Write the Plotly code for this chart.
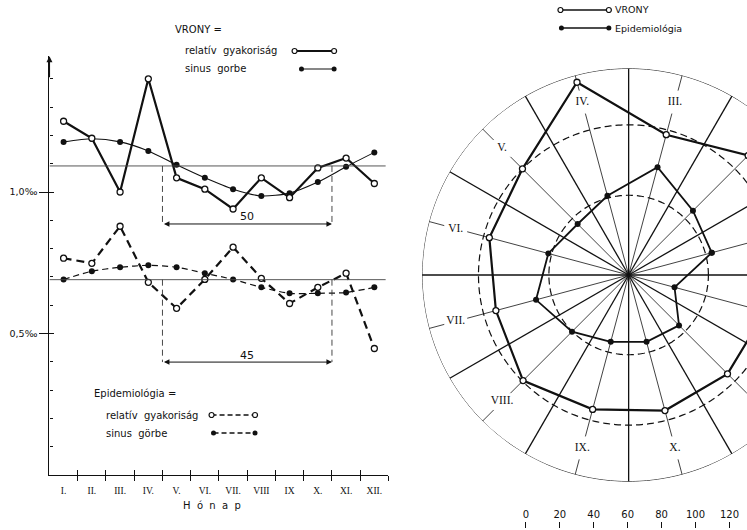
import numpy as np
import plotly.graph_objects as go

# ---------------------------------------------------------------- data
MONTH_LABELS = ["I.", "II.", "III.", "IV.", "V.", "VI.", "VII.", "VIII", "IX", "X.", "XI.", "XII."]
ROSE_LABELS = ["I.", "II.", "III.", "IV.", "V.", "VI.", "VII.", "VIII.", "IX.", "X.", "XI.", "XII."]

# monthly relative frequency (per mille) and fitted sine curve
VRONY_REL = [1.25, 1.19, 1.00, 1.40, 1.05, 1.01, 0.94, 1.05, 0.98, 1.085, 1.12, 1.03]
VRONY_SIN = [1.177, 1.188, 1.177, 1.145, 1.096, 1.05, 1.01, 0.986, 0.996, 1.035, 1.089, 1.14]
EPI_REL = [0.766, 0.748, 0.879, 0.681, 0.589, 0.691, 0.805, 0.695, 0.606, 0.663, 0.713, 0.447]
EPI_SIN = [0.691, 0.72, 0.734, 0.741, 0.734, 0.713, 0.691, 0.663, 0.642, 0.642, 0.645, 0.663]

# seasonal rose (scale 0-120)
VRONY_ROSE = [104.0, 99.6, 85.6, 117.6, 88.5, 85.0, 81.0, 88.0, 82.0, 82.7, 82.4, 83.3]
EPI_ROSE = [50.7, 53.6, 65.8, 48.3, 42.5, 49.0, 56.5, 47.2, 40.8, 40.8, 42.0, 28.0]
ROSE_MEANS = [88.5, 47.0]
SCALE_TICKS = [0, 20, 40, 60, 80, 100, 120]

# bracket annotations of the line chart: (label, level of arrow, label level)
BRACKETS = [("50", 0.887, 0.915), ("45", 0.399, 0.424)]
BRACKET_X = [4.5, 10.5]

# ---------------------------------------------------------------- layout helpers
W, H = 860, 530          # the rose runs off the right edge of the page
VIEW_W = 747             # visible part of the page
INK = "#111111"
SANS = "DejaVu Sans"
SERIF = "Liberation Serif"


def px(x):
    return x / W


def py(y):
    return 1 - y / H


months = np.arange(1, 13)
fig = go.Figure()

# ---------------------------------------------------------------- line chart
open_marker = dict(symbol="circle", size=6, color="white", line=dict(color=INK, width=1.3))
dot_marker = dict(symbol="circle", size=6, color=INK)

fig.add_trace(go.Scatter(x=months, y=VRONY_SIN, mode="lines+markers",
                         line=dict(color=INK, width=1.1, shape="spline", smoothing=0.7),
                         marker=dot_marker, xaxis="x", yaxis="y"))
fig.add_trace(go.Scatter(x=months, y=VRONY_REL, mode="lines+markers",
                         line=dict(color=INK, width=2.2), marker=open_marker,
                         xaxis="x", yaxis="y"))
fig.add_trace(go.Scatter(x=months, y=EPI_SIN, mode="lines+markers",
                         line=dict(color=INK, width=1.2, dash="6px,4px", shape="spline", smoothing=0.7),
                         marker=dot_marker, xaxis="x", yaxis="y"))
fig.add_trace(go.Scatter(x=months, y=EPI_REL, mode="lines+markers",
                         line=dict(color=INK, width=2.2, dash="8px,5px"), marker=open_marker,
                         xaxis="x", yaxis="y"))

# mean levels and the half-year brackets
means = [float(np.mean(VRONY_REL)), float(np.mean(EPI_REL))]
for mean, (label, arrow_y, label_y) in zip(means, BRACKETS):
    fig.add_shape(type="line", xref="x", yref="y", x0=0.5, x1=12.4, y0=mean, y1=mean,
                  line=dict(color="#444444", width=0.9))
    for bx in BRACKET_X:
        fig.add_shape(type="line", xref="x", yref="y", x0=bx, x1=bx, y0=mean, y1=arrow_y,
                      line=dict(color="#333333", width=0.9, dash="6px,4px"))
    fig.add_annotation(x=BRACKET_X[1], y=arrow_y, ax=BRACKET_X[0], ay=arrow_y,
                       xref="x", yref="y", axref="x", ayref="y", text="",
                       showarrow=True, arrowside="end+start", arrowhead=2,
                       arrowsize=1.1, arrowwidth=1, arrowcolor=INK)
    fig.add_annotation(x=np.mean(BRACKET_X), y=label_y, xref="x", yref="y", text=label,
                       showarrow=False, font=dict(family=SANS, size=11, color=INK))

# arrow head on the value axis
fig.add_annotation(x=0.5, y=1.48, ax=0.5, ay=1.40, xref="x", yref="y", axref="x", ayref="y",
                   text="", showarrow=True, arrowhead=2, arrowsize=1.0, arrowwidth=1.2,
                   arrowcolor=INK)

# dummy traces so the tick overlay axes are drawn
fig.add_trace(go.Scatter(x=[None], y=[None], xaxis="x5", yaxis="y", hoverinfo="skip"))
fig.add_trace(go.Scatter(x=[None], y=[None], xaxis="x", yaxis="y6", hoverinfo="skip"))

# ---------------------------------------------------------------- seasonal rose
CX, CY, R_PX = 633, 275, 209
PX_PER_UNIT = (735 - 529) / 120
R_OUT = R_PX / PX_PER_UNIT      # radius of the outer ring in scale units
LABEL_R = 105.5

ring_theta = np.linspace(0, 360, 361)
fig.add_trace(go.Scatterpolar(r=np.full(ring_theta.size, R_OUT), theta=ring_theta, mode="lines",
                              line=dict(color="#333333", width=1), cliponaxis=False))
for m in ROSE_MEANS:
    fig.add_trace(go.Scatterpolar(r=np.full(ring_theta.size, m), theta=ring_theta, mode="lines",
                                  line=dict(color=INK, width=1.2, dash="7px,4px")))

month_theta = 15 + 30 * np.arange(12)
bound_theta = 30 * np.arange(12)
br, bt = [], []
for a in bound_theta:
    br += [0, R_OUT, None]
    bt += [a, a, None]
fig.add_trace(go.Scatterpolar(r=br, theta=bt, mode="lines", connectgaps=False,
                              line=dict(color=INK, width=1.3), cliponaxis=False))
mr, mt = [], []
for a in month_theta:
    mr += [0, LABEL_R - 7, None, LABEL_R + 7, R_OUT, None]
    mt += [a, a, None, a, a, None]
fig.add_trace(go.Scatterpolar(r=mr, theta=mt, mode="lines", connectgaps=False,
                              line=dict(color=INK, width=0.8), cliponaxis=False))

fig.add_trace(go.Scatterpolar(r=EPI_ROSE + EPI_ROSE[:1], theta=list(month_theta) + [month_theta[0]],
                              mode="lines+markers", line=dict(color=INK, width=1.8),
                              marker=dict(symbol="circle", size=6, color=INK)))
fig.add_trace(go.Scatterpolar(r=VRONY_ROSE + VRONY_ROSE[:1], theta=list(month_theta) + [month_theta[0]],
                              mode="lines+markers", line=dict(color=INK, width=2.2),
                              marker=dict(symbol="circle", size=6, color="white",
                                          line=dict(color=INK, width=1.3))))

# month names of the rose, only those that fall on the visible page
label_x = CX + LABEL_R * PX_PER_UNIT * np.cos(np.radians(month_theta))
shown = label_x + 14 < VIEW_W
fig.add_trace(go.Scatterpolar(r=[LABEL_R] * int(shown.sum()), theta=month_theta[shown], mode="text",
                              text=[t for t, s in zip(ROSE_LABELS, shown) if s],
                              textfont=dict(family=SERIF, size=11.5, color=INK), cliponaxis=False))

# scale bar for the rose, same units as its radius
fig.add_trace(go.Scatter(x=[None], y=[None], xaxis="x2", yaxis="y2", hoverinfo="skip"))

# ---------------------------------------------------------------- legend samples (pixel overlay)
def sample(x0, x1, y, marker, width, dash=None):
    fig.add_trace(go.Scatter(x=[x0, x1], y=[y, y], mode="lines+markers", xaxis="x3", yaxis="y3",
                             line=dict(color=INK, width=width, dash=dash), marker=marker,
                             hoverinfo="skip"))


small_open = dict(symbol="circle", size=5, color="white", line=dict(color=INK, width=1.2))
small_dot = dict(symbol="circle", size=5, color=INK)
sample(295, 335, 51, small_open, 1.8)
sample(302, 335, 69, small_dot, 1.2)
sample(211, 255, 415, small_open, 1.6, "5px,3px")
sample(213, 255, 433, small_dot, 1.3, "5px,3px")
sample(564, 613, 10, small_open, 1.4)
sample(565, 613, 28, small_dot, 1.4)


def label(x, y, text, size=10, anchor="left", family=SANS):
    fig.add_annotation(x=px(x), y=py(y), xref="paper", yref="paper", text=text, showarrow=False,
                       xanchor=anchor, yanchor="middle",
                       font=dict(family=family, size=size, color=INK))


label(172, 30, "VRONY =")
label(182, 51, "relatív\u00a0 gyakoriság")
label(182, 69, "sinus\u00a0 gorbe")
label(90, 393, "Epidemiológia =")
label(102, 415, "relatív\u00a0 gyakoriság")
label(102, 433, "sinus\u00a0 görbe")
label(211, 505, "H\u00a0 ó\u00a0 n\u00a0 a\u00a0 p", anchor="center")
label(617, 10, "VRONY", size=9.5)
label(617, 29, "Epidemiológia", size=9.5)

# ---------------------------------------------------------------- axes
fig.update_layout(
    width=W, height=H, autosize=False, showlegend=False,
    margin=dict(l=0, r=0, t=0, b=0),
    paper_bgcolor="white", plot_bgcolor="rgba(0,0,0,0)",
    font=dict(family=SANS, color=INK),
    xaxis=dict(domain=[px(47), px(390)], range=[0.5, 12.5], anchor="y",
               tickmode="array", tickvals=months, ticktext=MONTH_LABELS, ticks="",
               ticklabelstandoff=6,
               tickfont=dict(family=SERIF, size=9.5, color=INK),
               minor=dict(tickmode="array", tickvals=list(months[:-1] + 0.5) + [12.5],
                          ticks="outside", ticklen=5, tickwidth=1.1, tickcolor=INK),
               showline=True, linecolor=INK, linewidth=1.3, showgrid=False, zeroline=False),
    yaxis=dict(domain=[py(475), py(475 - 1.48 * 283)], range=[0, 1.48], anchor="x",
               tickmode="array", tickvals=[0.5, 1.0], ticktext=["0,5‰", "1,0‰"],
               ticks="outside", ticklen=9, tickwidth=1.3, tickcolor=INK,
               tickfont=dict(family=SANS, size=9.5, color=INK),
               minor=dict(tickmode="array", tickvals=[round(0.1 * k, 1) for k in range(1, 15)],
                          ticks="inside", ticklen=3, tickwidth=1, tickcolor=INK),
               showline=True, linecolor=INK, linewidth=1.3, showgrid=False, zeroline=False),
    xaxis5=dict(overlaying="x", range=[0.5, 12.5], anchor="y", side="bottom",
                tickmode="array", tickvals=list(months[:-1] + 0.5) + [12.5],
                ticks="inside", ticklen=5, tickwidth=1.1, tickcolor=INK,
                showticklabels=False, showline=False, showgrid=False, zeroline=False),
    yaxis6=dict(overlaying="y", range=[0, 1.48], anchor="x", side="left",
                tickmode="array", tickvals=[0.5, 1.0], ticks="inside", ticklen=5,
                tickwidth=1.3, tickcolor=INK,
                showticklabels=False, showline=False, showgrid=False, zeroline=False),
    xaxis2=dict(domain=[px(529), px(529 + R_PX)], range=[0, R_OUT], anchor="y2", side="top",
                tickmode="array", tickvals=SCALE_TICKS, ticks="outside", ticklen=6,
                tickwidth=1.1, tickcolor=INK, tickfont=dict(family=SANS, size=10, color=INK),
                showline=False, showgrid=False, zeroline=False),
    yaxis2=dict(domain=[0, 0.002], range=[0, 1], anchor="x2", visible=False),
    xaxis3=dict(domain=[0, 1], range=[0, W], anchor="y3", visible=False),
    yaxis3=dict(domain=[0, 1], range=[H, 0], anchor="x3", visible=False),
    polar=dict(domain=dict(x=[px(CX - R_PX), px(CX + R_PX)], y=[py(CY + R_PX), py(CY - R_PX)]),
               bgcolor="rgba(0,0,0,0)",
               radialaxis=dict(range=[0, R_OUT], visible=False),
               angularaxis=dict(visible=False, rotation=0, direction="counterclockwise")),
)

fig.write_html(
    "out.html",
    post_script="document.documentElement.style.overflow='hidden';"
                "document.body.style.overflow='hidden';document.body.style.margin='0';",
)
